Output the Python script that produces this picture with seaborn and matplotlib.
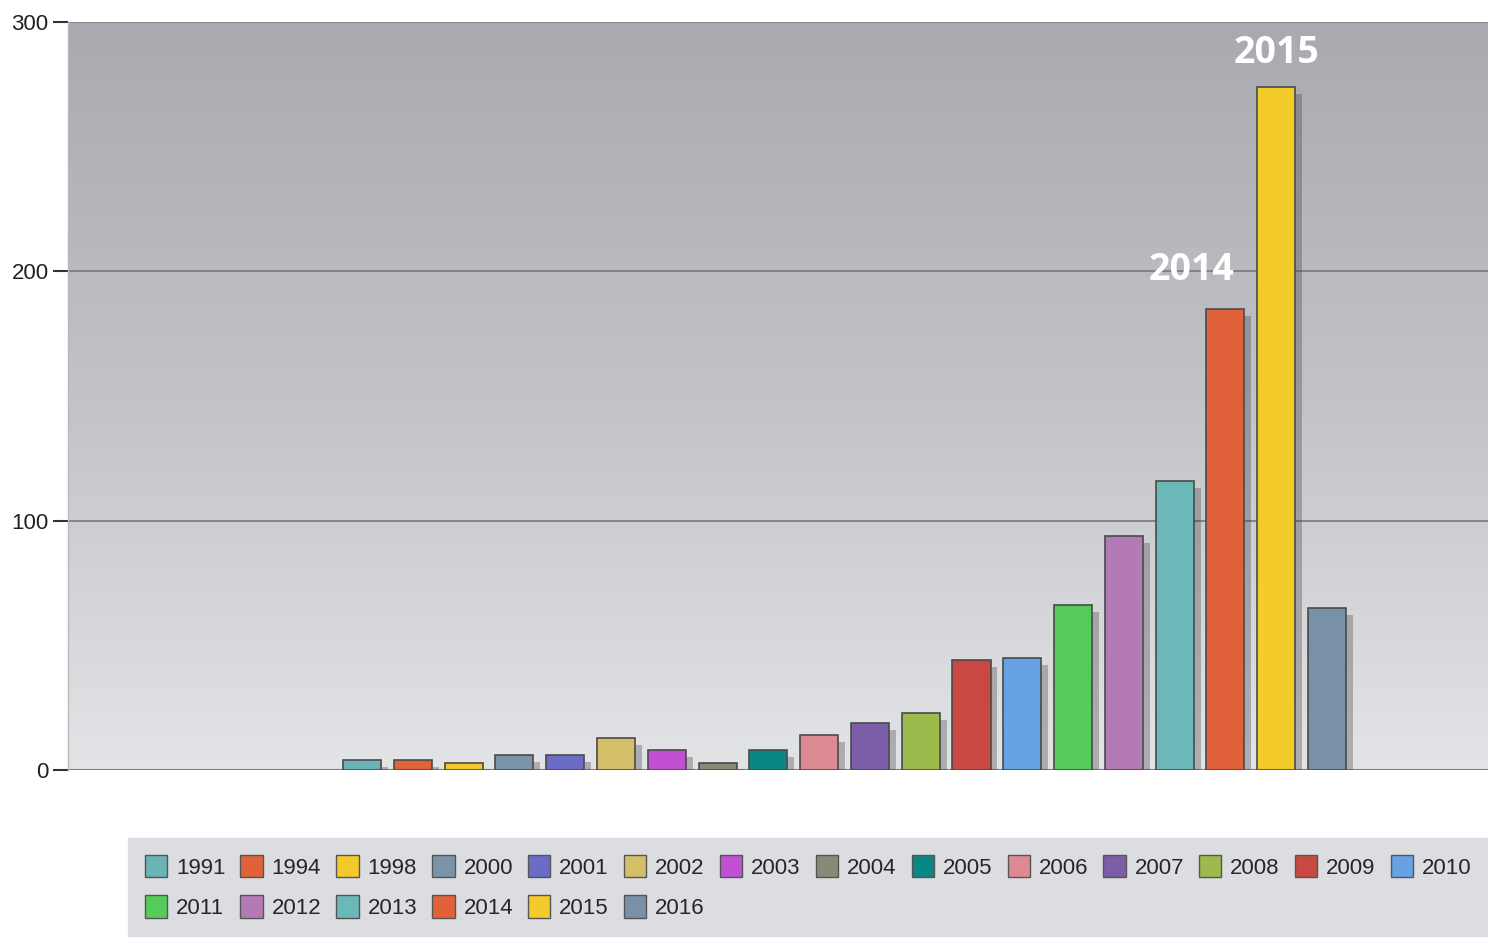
import numpy as np
import pandas as pd
import matplotlib
matplotlib.use("Agg")
import matplotlib.pyplot as plt
import matplotlib.patheffects as pe
from matplotlib.patches import Patch
from matplotlib.colors import LinearSegmentedColormap
import seaborn as sns

years = ["1991", "1994", "1998", "2000", "2001", "2002", "2003", "2004", "2005", "2006",
         "2007", "2008", "2009", "2010", "2011", "2012", "2013", "2014", "2015", "2016"]
counts = [4, 4, 3, 6, 6, 13, 8, 3, 8, 14, 19, 23, 44, 45, 66, 94, 116, 185, 274, 65]
colors = ["#6ab4b6", "#e0623a", "#f2c82a", "#7a93a8", "#6a6cc8", "#d2bf68", "#c24fd4",
          "#878a76", "#0a8784", "#dd8a92", "#7b5ea7", "#9cbb4c", "#c94844", "#66a2e4",
          "#55cc5a", "#b47ab5", "#6bb8b8", "#e0613a", "#f3cb2b", "#7890a8"]
highlight = {"2014": "2014", "2015": "2015"}

df = pd.DataFrame({"year": years, "count": counts})

sns.set_theme(style="white")
plt.rcParams["font.family"] = ["Liberation Sans Narrow", "Liberation Sans", "DejaVu Sans"]

fig = plt.figure(figsize=(14.88, 9.38), dpi=100)
ax = fig.add_axes([68 / 1488, 1 - 770 / 938, 1 - 68 / 1488, (770 - 22) / 938])

# gradient background
grad = np.linspace(0, 1, 256).reshape(-1, 1)
cmap = LinearSegmentedColormap.from_list("bg", ["#a8aab0", "#c2c3c7", "#e3e4e6"])
ax.imshow(grad, extent=[0, 1, 0, 1], transform=ax.transAxes, cmap=cmap,
          aspect="auto", zorder=0, origin="upper")

sns.barplot(data=df, x="year", y="count", hue="year", palette=colors, dodge=False,
            width=0.75, legend=False, ax=ax, zorder=3, edgecolor="#4a4a4a", linewidth=1.2,
            saturation=1)

for p in ax.patches:
    p.set_path_effects([pe.SimplePatchShadow(offset=(5, -5), alpha=0.3, shadow_rgbFace="#333333"),
                        pe.Normal()])

ax.set_xlim(-5.79, 22.17)
ax.set_ylim(0, 300)
ax.set_yticks([0, 100, 200, 300])
ax.set_yticklabels(["0", "100", "200", "300"])
ax.tick_params(axis="y", length=11, width=1.5, color="#333333", labelsize=16,
               labelcolor="#222222", pad=3, left=True)
ax.tick_params(axis="x", bottom=False, labelbottom=False)
ax.set_xlabel("")
ax.set_ylabel("")
for y in [100, 200]:
    ax.axhline(y, color="#7d7f85", lw=1.3, zorder=1)
ax.axhline(300, color="#8a8c90", lw=1.5, zorder=1)
ax.axhline(0, color="#7d7f85", lw=1.5, zorder=2)
for s in ["right", "top", "bottom"]:
    ax.spines[s].set_visible(False)
ax.spines["left"].set_color("#b8b9bc")
ax.spines["left"].set_linewidth(1)

# annotations
pos = {y: i for i, y in enumerate(years)}
ax.text(pos["2015"], 287.5, highlight["2015"], color="white", fontsize=27, fontweight="bold",
        family=["Open Sans", "DejaVu Sans"], ha="center", va="center", zorder=5)
ax.text(pos["2014"] - 0.66, 200.5, highlight["2014"], color="white", fontsize=27, fontweight="bold",
        family=["Open Sans", "DejaVu Sans"], ha="center", va="center", zorder=5)

# legend: row-major order with 14 columns (pad with invisible entries)
ncol = 14
handles_all = [Patch(facecolor=c, edgecolor="#555555", linewidth=1.0) for c in colors]
blank = Patch(facecolor="none", edgecolor="none")
rows = [list(range(0, ncol)), list(range(ncol, 2 * ncol))]
h_ord, l_ord = [], []
for j in range(ncol):
    for r in rows:
        k = r[j]
        if k < len(years):
            h_ord.append(handles_all[k])
            l_ord.append(years[k])
        else:
            h_ord.append(blank)
            l_ord.append("")
leg = fig.legend(h_ord, l_ord, ncol=ncol, loc="upper left",
                 bbox_to_anchor=(128 / 1488, 1 - 936 / 938, 1 - 128 / 1488, 98 / 938),
                 mode="expand", frameon=True, fontsize=16, handlelength=1.0, handleheight=1.2,
                 handletextpad=0.4, columnspacing=0.6, labelspacing=0.75, borderpad=0.75,
                 borderaxespad=0, fancybox=False)
leg.get_frame().set_facecolor("#dcdde0")
leg.get_frame().set_edgecolor("#dcdde0")
leg.get_frame().set_alpha(1)

fig.savefig("out.png", dpi=100)
